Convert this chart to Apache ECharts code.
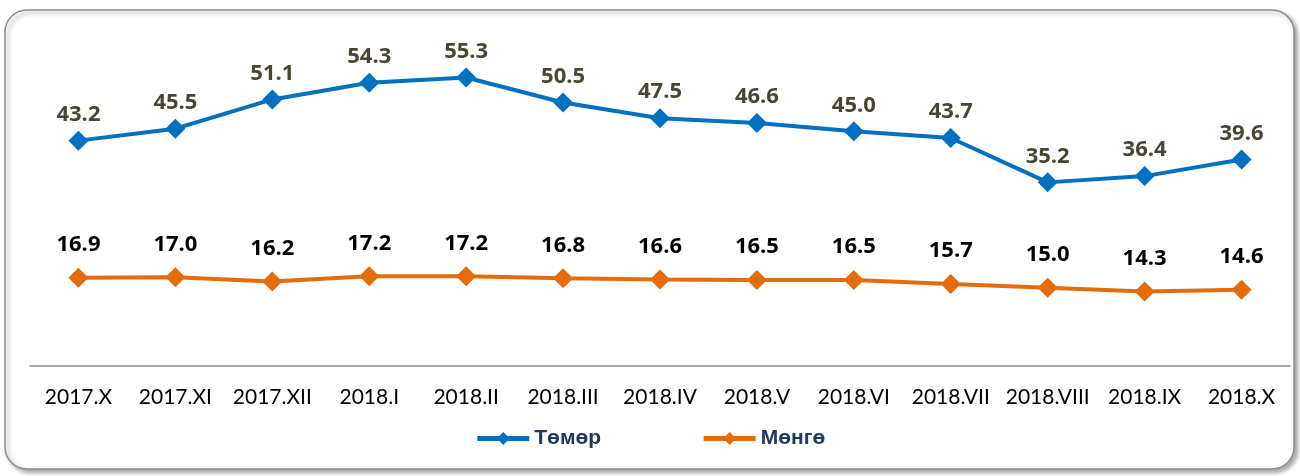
<!DOCTYPE html>
<html>
<head>
<meta charset="utf-8">
<script src="https://cdn.jsdelivr.net/npm/echarts@6/dist/echarts.min.js"></script>
<style>
  html, body { margin: 0; padding: 0; background: #fff; }
  #chart { width: 1300px; height: 476px; }
</style>
</head>
<body>
<div id="chart"></div>
<script>
// months on the x axis
var months = ["2017.X", "2017.XI", "2017.XII", "2018.I", "2018.II", "2018.III", "2018.IV",
  "2018.V", "2018.VI", "2018.VII", "2018.VIII", "2018.IX", "2018.X"];
var temor = [43.2, 45.5, 51.1, 54.3, 55.3, 50.5, 47.5, 46.6, 45.0, 43.7, 35.2, 36.4, 39.6];
var mengo = [16.9, 17.0, 16.2, 17.2, 17.2, 16.8, 16.6, 16.5, 16.5, 15.7, 15.0, 14.3, 14.6];
var seriesNames = ["Төмөр", "Мөнгө"];

var chart = echarts.init(document.getElementById("chart"));

var labelFont = "'Open Sans', 'DejaVu Sans', sans-serif";

chart.setOption({
  animation: false,
  graphic: [{
    type: "rect",
    shape: { x: 5, y: 10, width: 1289, height: 459, r: 22 },
    style: {
      fill: "#fff",
      stroke: "#8c8c8c",
      lineWidth: 1.5,
      shadowBlur: 4,
      shadowOffsetX: 3,
      shadowOffsetY: 3,
      shadowColor: "rgba(0,0,0,0.35)"
    },
    z: -10
  }],
  grid: { left: 30, right: 10, top: 53, bottom: 110 },
  legend: {
    bottom: 22,
    left: "center",
    itemWidth: 52,
    itemHeight: 16,
    itemGap: 100,
    lineStyle: { width: 5 },
    textStyle: {
      fontFamily: "'Liberation Sans', Arial, sans-serif",
      fontWeight: "bold",
      fontSize: 21,
      color: "#1f3864"
    },
    data: seriesNames
  },
  xAxis: {
    type: "category",
    data: months,
    boundaryGap: true,
    axisLine: { lineStyle: { color: "#8c8c8c", width: 1.5 } },
    axisTick: { show: false },
    axisLabel: {
      interval: 0,
      margin: 21,
      fontSize: 21,
      color: "#000",
      fontFamily: "Lato, 'Open Sans', sans-serif"
    }
  },
  yAxis: {
    type: "value",
    min: 0,
    max: 60,
    show: false,
    splitLine: { show: false }
  },
  series: [
    {
      name: seriesNames[0],
      type: "line",
      data: temor,
      color: "#0070c0",
      symbol: "diamond",
      symbolSize: 20,
      lineStyle: { width: 4, color: "#0070c0" },
      itemStyle: { color: "#0070c0" },
      label: {
        show: true,
        position: "top",
        distance: 5,
        fontSize: 22,
        fontWeight: "bold",
        color: "#4a4532",
        fontFamily: labelFont,
        formatter: function (p) { return p.value.toFixed(1); }
      }
    },
    {
      name: seriesNames[1],
      type: "line",
      data: mengo,
      color: "#e46c0a",
      symbol: "diamond",
      symbolSize: 20,
      lineStyle: { width: 4, color: "#e46c0a" },
      itemStyle: { color: "#e46c0a" },
      label: {
        show: true,
        position: "top",
        distance: 12,
        fontSize: 22,
        fontWeight: "bold",
        color: "#000",
        fontFamily: labelFont,
        formatter: function (p) { return p.value.toFixed(1); }
      }
    }
  ]
});
</script>
</body>
</html>
